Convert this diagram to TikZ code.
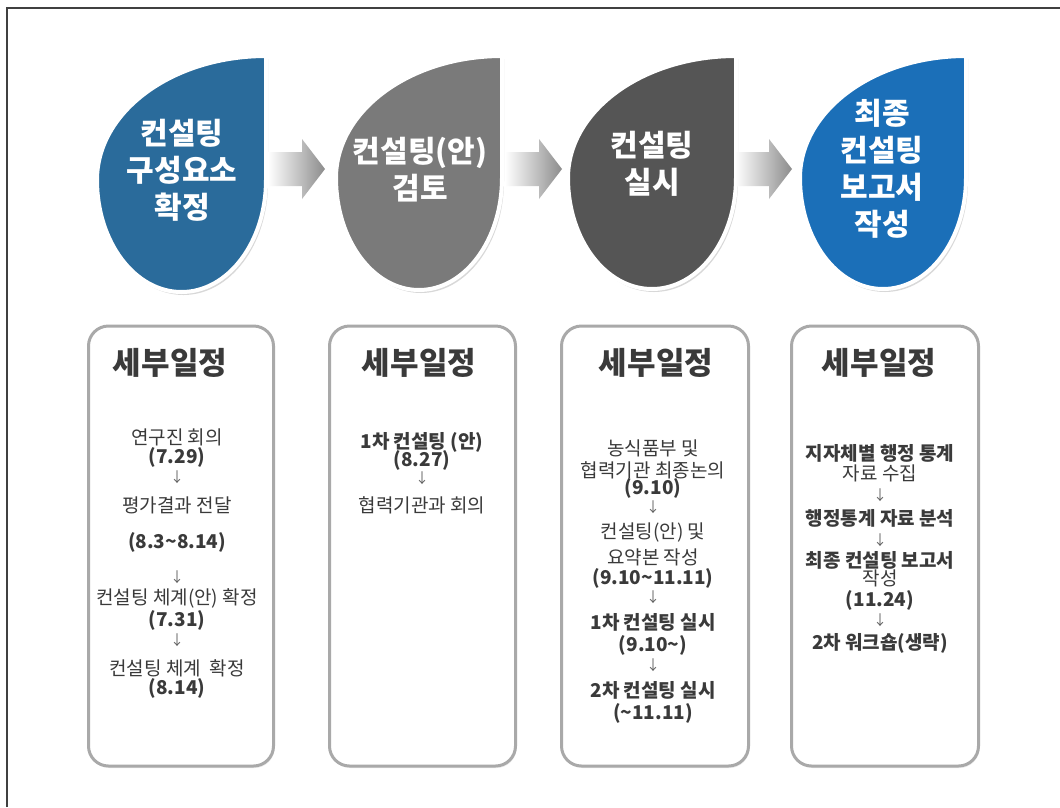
\documentclass[tikz,border=0pt]{standalone}
\usepackage{fontspec}
\setmainfont{Noto Sans CJK KR}
\usetikzlibrary{shadows}
\definecolor{dropA}{HTML}{2A6B9B}
\definecolor{dropB}{HTML}{7A7A7A}
\definecolor{dropC}{HTML}{555555}
\definecolor{dropD}{HTML}{1B6FB8}
\definecolor{boxline}{HTML}{A9A9A9}
\definecolor{inktext}{HTML}{3A3A3A}
\newcommand{\tld}{\textasciitilde}

\begin{document}
\begin{tikzpicture}[x=1pt,y=-1pt,
  title/.style={align=center,text=white,font=\fontsize{30}{37}\selectfont\bfseries},
  planhead/.style={text=inktext,font=\fontsize{31}{36}\selectfont\bfseries},
  item/.style={text=inktext,font=\fontsize{19}{21}\selectfont,inner sep=0pt},
  darrow/.style={text=inktext!80,font=\fontsize{14}{14}\selectfont,inner sep=0pt},
  plan/.style={draw=boxline,line width=3pt,rounded corners=20pt,fill=white,
    drop shadow={opacity=0.15,shadow xshift=1pt,shadow yshift=-2pt}}]
\useasboundingbox (0,0) rectangle (1060,807);
\fill[white] (0,0) rectangle (1060,807);
\draw[line width=1.5pt,black!75] (7,807) -- (7,8) -- (1060,8);

% drops
\foreach \L/\R/\T/\cy/\B/\col in {97/266/56/180/292/dropA,336/502/56/178/290/dropB,568/736/56/178/289/dropC,800/966/56/178/289/dropD}{
  \pgfmathsetmacro\ra{(\R-\L)/2}
  \pgfmathsetmacro\rw{\R-\L}
  \pgfmathsetmacro\rb{\B-\cy}
  \pgfmathsetmacro\rt{\cy-\T}
  \draw[fill=\col,draw=white,line width=4pt,drop shadow={opacity=0.3,shadow xshift=2pt,shadow yshift=-3pt}]
    (\R,\T) -- (\R,\cy) arc[start angle=0,end angle=90,x radius=\ra,y radius=\rb]
    arc[start angle=90,end angle=180,x radius=\ra,y radius=\rb]
    arc[start angle=180,end angle=270,x radius=\rw,y radius=\rt] -- cycle;
}
\node[title] (t1) at (182,170) {컨설팅\\구성요소\\확정};
\node[title] (t2) at (420,170) {컨설팅(안)\\검토};
\node[title] (t3) at (652,164) {컨설팅\\실시};
\node[title] (t4) at (882,169) {최종\\컨설팅\\보고서\\작성};

% arrows between steps
\foreach \dx in {0,237,467}
  \shade[left color=white,right color=black!45]
    (268+\dx,152) -- (302+\dx,152) -- (302+\dx,139) -- (325+\dx,169)
    -- (302+\dx,199) -- (302+\dx,186) -- (268+\dx,186) -- cycle;

% schedule boxes
\node[plan,minimum width=185pt,minimum height=440pt] (p1) at (181,546) {};
\node[plan,minimum width=186pt,minimum height=440pt] (p2) at (422.5,546) {};
\node[plan,minimum width=187pt,minimum height=440pt] (p3) at (655,546) {};
\node[plan,minimum width=187pt,minimum height=440pt] (p4) at (885,546) {};
\node[planhead] (h1) at (170,363) {세부일정};
\node[planhead] (h2) at (419,363) {세부일정};
\node[planhead] (h3) at (656,363) {세부일정};
\node[planhead] (h4) at (879,363) {세부일정};

\foreach \y/\t [count=\k] in {437/연구진 회의,457/\bfseries (7.29),505/평가결과 전달,542/\bfseries (8.3\tld8.14),
  598/컨설팅 체계(안) 확정,620/\bfseries (7.31),668/컨설팅 체계\ \ 확정,688/\bfseries (8.14)}
  \node[item] (a\k) at (177,\y) {\t};
\foreach \y [count=\k] in {477,577,640}
  \node[darrow] (ad\k) at (177,\y) {↓};

\foreach \y/\t [count=\k] in {442/\bfseries 1차 컨설팅 (안),460/\bfseries (8.27),505/협력기관과 회의}
  \node[item] (b\k) at (422,\y) {\t};
\node[darrow] (bd1) at (422,478) {↓};

\foreach \y/\t [count=\k] in {448/농식품부 및,470/협력기관 최종논의,488/\bfseries (9.10),532/컨설팅(안) 및,
  557/요약본 작성,578/\bfseries (9.10\tld11.11),622/\bfseries 1차 컨설팅 실시,645/\bfseries (9.10\tld),
  690/\bfseries 2차 컨설팅 실시,713/\bfseries (\tld11.11)}
  \node[item] (c\k) at (653,\y) {\t};
\foreach \y [count=\k] in {507,597,665}
  \node[darrow] (cd\k) at (653,\y) {↓};

\foreach \y/\t [count=\k] in {453/\bfseries 지자체별 행정 통계,473/자료 수집,518/\bfseries 행정통계 자료 분석,
  560/\bfseries 최종 컨설팅 보고서,578/작성,600/\bfseries (11.24),643/\bfseries 2차 워크숍(생략)}
  \node[item] (d\k) at (880,\y) {\t};
\foreach \y [count=\k] in {495,540,620}
  \node[darrow] (dd\k) at (880,\y) {↓};
\end{tikzpicture}
\end{document}
